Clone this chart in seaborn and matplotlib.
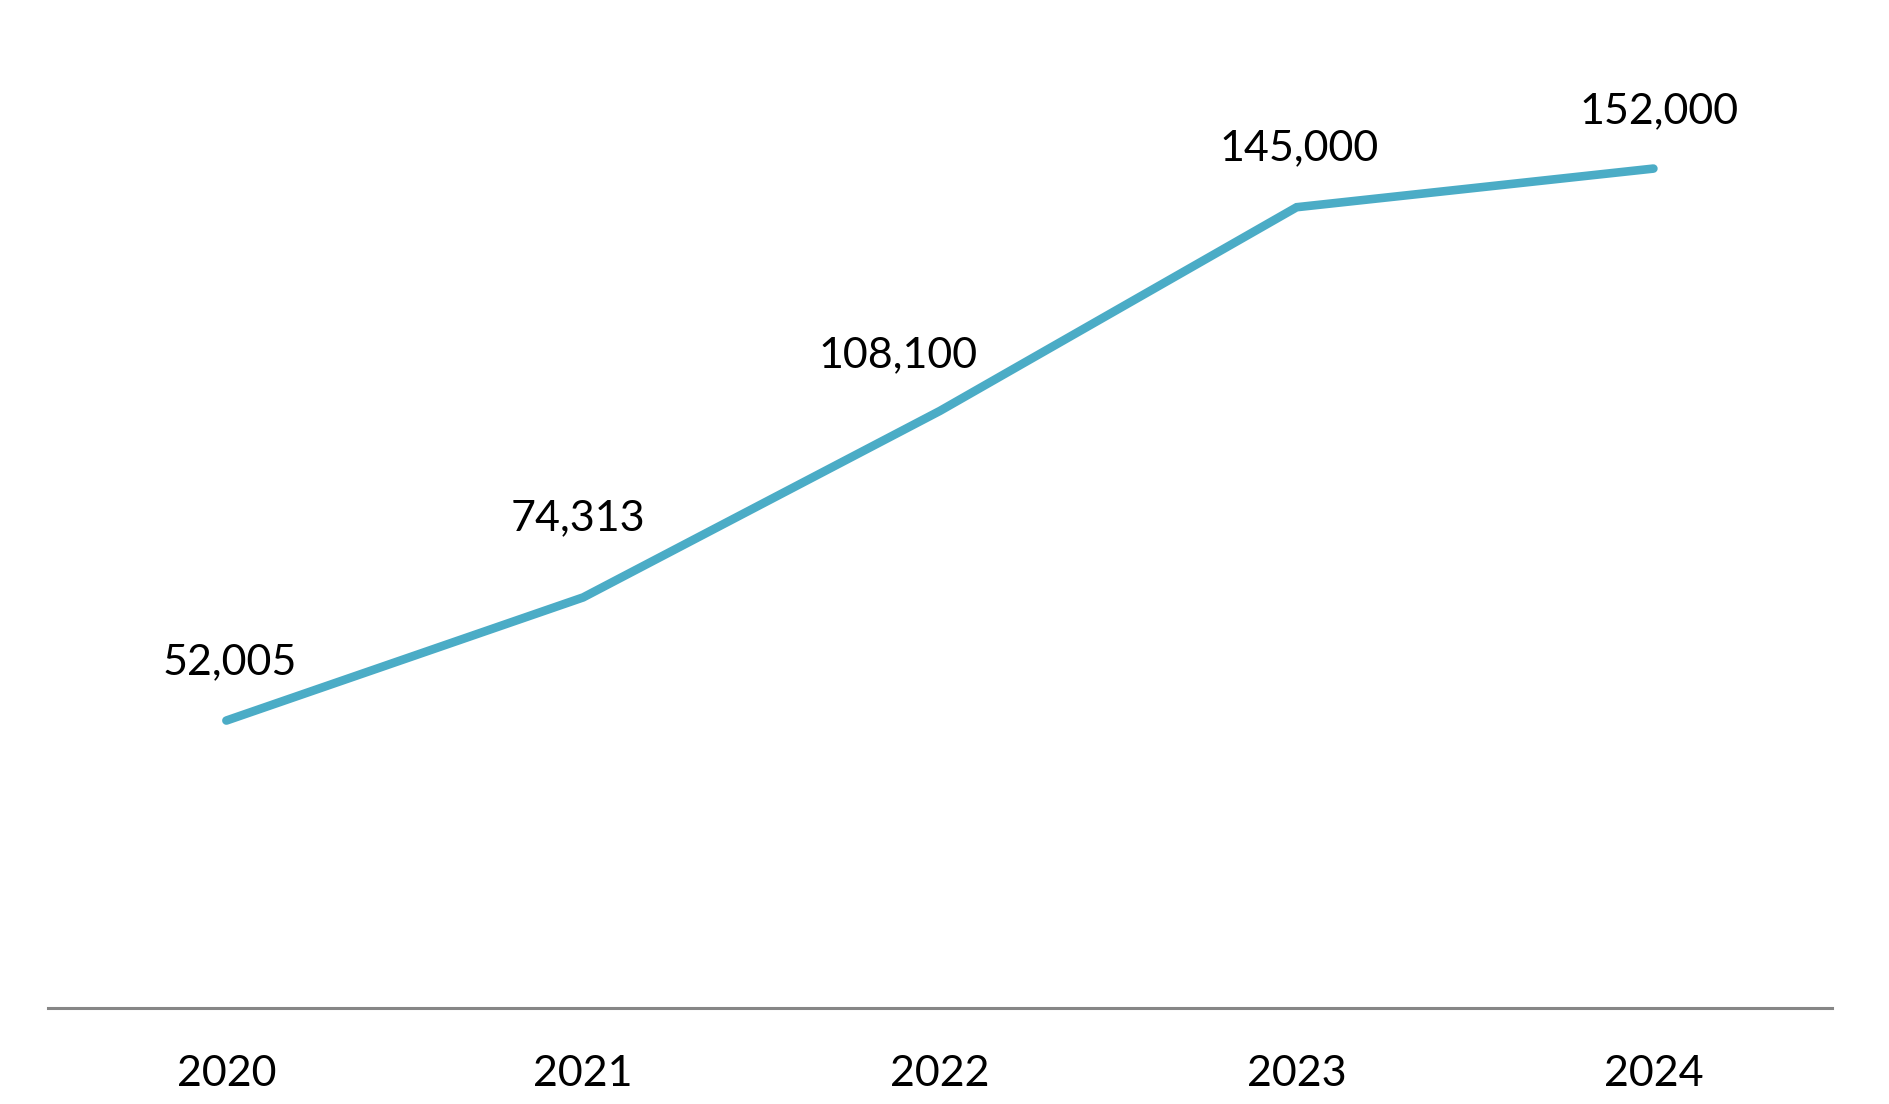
import matplotlib
matplotlib.use("Agg")
import matplotlib.pyplot as plt
import seaborn as sns
import pandas as pd

# data
years = ["2020", "2021", "2022", "2023", "2024"]
values = [52005, 74313, 108100, 145000, 152000]

# label nudges in pixels (dx, dy) - like the excel data labels
label_dx = [3, -5, -42, 2, 6]
label_dy = [58, 79, 56, 59, 57]

df = pd.DataFrame({"year": years, "value": values})

sns.set_theme(style="white")
plt.rcParams["font.family"] = ["Lato", "DejaVu Sans"]

fig = plt.figure(figsize=(18.9, 11.04), dpi=100)
ax = fig.add_axes([0.0254, 0.0873, 0.9438, 0.9])

sns.lineplot(data=df, x="year", y="value", ax=ax, color="#4BACC6",
             linewidth=6.2, solid_capstyle="round", solid_joinstyle="miter", sort=False)

for i, (yr, v) in enumerate(zip(years, values)):
    ax.annotate(f"{v:,}", xy=(i, v), xytext=(label_dx[i], label_dy[i]),
                textcoords="offset pixels", ha="center", va="center",
                fontsize=31, color="black")

ax.set_xlim(-0.5, len(years) - 0.5)
ax.set_ylim(0, 180000)
ax.set_xlabel("")
ax.set_ylabel("")
ax.set_yticks([])
for side in ["left", "right", "top"]:
    ax.spines[side].set_visible(False)
ax.spines["bottom"].set_color("#868686")
ax.spines["bottom"].set_linewidth(2.2)
ax.tick_params(axis="x", length=0, pad=34, labelsize=31, labelcolor="black")

fig.savefig("out.png", dpi=100)
